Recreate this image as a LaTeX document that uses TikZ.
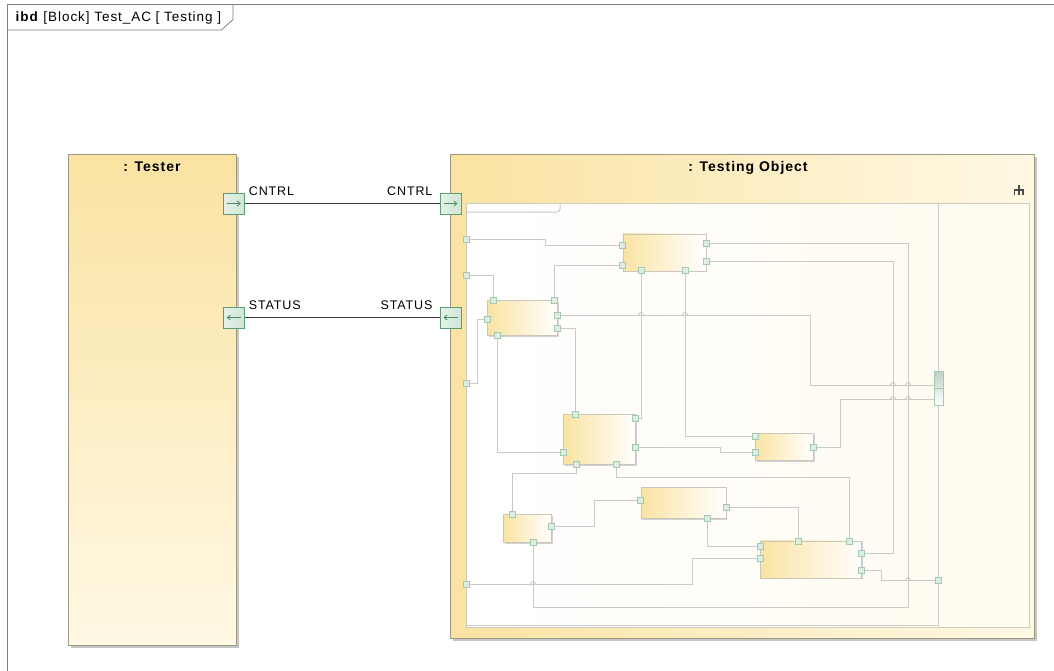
\documentclass[tikz,border=0pt]{standalone}
\usepackage{fontspec}
\setmainfont{Liberation Sans}[LetterSpace=7]
\usetikzlibrary{arrows.meta, positioning, shadows}
\definecolor{framegray}{HTML}{808080}
\definecolor{blockedge}{HTML}{9E9880}
\definecolor{blocktop}{HTML}{FAE3A2}
\definecolor{blocklow}{HTML}{FFF8E4}
\definecolor{portedge}{HTML}{5E9C76}
\definecolor{portfill}{HTML}{CFE6D6}
\definecolor{portarrow}{HTML}{4E8C63}
\definecolor{pinedge}{HTML}{A3CAB1}
\definecolor{pinfill}{HTML}{DCEEE2}
\definecolor{wiregray}{HTML}{CACACA}
\definecolor{linkdark}{HTML}{3C3C3C}
\definecolor{icongray}{HTML}{4A4A4A}

\begin{document}
\begin{tikzpicture}[x=1pt, y=-1pt,
    every node/.style={font=\fontsize{12.5}{14}\selectfont, inner sep=0pt},
    block/.style={draw=blockedge, line width=0.8pt, general shadow={fill=black!22, shadow xshift=2.5pt, shadow yshift=-2.5pt}},
    part/.style={draw=blockedge!55, line width=0.6pt, left color=blocktop, right color=white, general shadow={fill=black!18, shadow xshift=1.5pt, shadow yshift=-1.5pt}},
    port/.style={draw=portedge, line width=0.8pt, minimum width=21pt, minimum height=21pt, left color=portfill!55!white, right color=portfill},
    pinbox/.style={draw=pinedge, fill=pinfill, line width=0.5pt, minimum width=6pt, minimum height=6pt},
    title/.style={font=\fontsize{14}{16}\selectfont\bfseries, anchor=base},
    lbl/.style={anchor=base west},
    link/.style={linkdark, line width=1.1pt},
    wire/.style={wiregray, line width=1pt},
    flow/.style={portarrow, line width=0.8pt, -{Straight Barb[length=3pt, width=5pt]}}
]
\useasboundingbox[fill=white] (0,0) rectangle (1054,670);

% Diagram frame
\draw[framegray, line width=0.8pt] (7.5,680) -- (7.5,4.5) -- (1060,4.5);
\draw[framegray, line width=0.8pt] (7.5,30) -- (221.5,30) -- (233,19.5) -- (233,4.5);
\node[anchor=base west, font=\fontsize{13.5}{15}\selectfont] (hdr) at (15.5,21.5) {\textbf{ibd} [Block] Test\_AC [ Testing ]};

% Tester block
\node[block, minimum width=168pt, minimum height=491pt, top color=blocktop, bottom color=blocklow] (tester) at (152,399.5) {};
\node[title] (testername) at (152,171.5) {: Tester};

% Testing object block
\node[block, minimum width=584pt, minimum height=484pt, left color=blocktop, right color=blocklow] (obj) at (742,396) {};
\node[draw=blockedge!50, line width=0.6pt, left color=white, right color=blocklow!60!white, minimum width=563pt, minimum height=424pt] (struct) at (747.5,415) {};
\node[title] (objname) at (748,171.5) {: Testing Object};
\draw[icongray, line width=1.6pt] (1018.7,184.5) -- (1018.7,195) (1013.6,190) -- (1023.8,190)
    (1014.4,189.2) -- (1014.4,195) (1023,189.2) -- (1023,195);

% Ports and links
\node[port] (tcntrl) at (233.8,203.5) {};
\node[port] (tstatus) at (233.8,317.5) {};
\node[port] (ocntrl) at (450.5,203.5) {};
\node[port] (ostatus) at (450.5,317.5) {};
\draw[flow] ([xshift=-7pt]tcntrl.center) -- ([xshift=7pt]tcntrl.center);
\draw[flow] ([xshift=-7pt]ocntrl.center) -- ([xshift=7pt]ocntrl.center);
\draw[flow] ([xshift=7pt]tstatus.center) -- ([xshift=-7pt]tstatus.center);
\draw[flow] ([xshift=7pt]ostatus.center) -- ([xshift=-7pt]ostatus.center);
\draw[link] (tcntrl) -- (ocntrl);
\draw[link] (tstatus) -- (ostatus);
\node[lbl] (cntrlout) at ([xshift=4pt, yshift=-2.5pt]tcntrl.north east) {CNTRL};
\node[lbl, anchor=base east] (cntrlin) at ([xshift=-7pt, yshift=-2.5pt]ocntrl.north west) {CNTRL};
\node[lbl] (statusin) at ([xshift=4pt, yshift=-2.5pt]tstatus.north east) {STATUS};
\node[lbl, anchor=base east] (statusout) at ([xshift=-7pt, yshift=-2.5pt]ostatus.north west) {STATUS};

% Inner parts
\node[part, minimum width=83pt, minimum height=37pt] (part1) at (664.3,252.3) {};
\node[part, minimum width=70pt, minimum height=35pt] (part2) at (522.5,317.5) {};
\node[part, minimum width=72pt, minimum height=50pt] (part3) at (599.3,439.2) {};
\node[part, minimum width=58pt, minimum height=27pt] (part4) at (784,447) {};
\node[part, minimum width=48pt, minimum height=28pt] (part5) at (527,528) {};
\node[part, minimum width=101pt, minimum height=37pt] (part6) at (811,559.3) {};
\node[part, minimum width=85pt, minimum height=31pt] (part7) at (683.3,503) {};

% Pin positions
\coordinate (w1) at (466,239);   \coordinate (w2) at (466,275);
\coordinate (w3) at (466,383);   \coordinate (w4) at (466,584);
\coordinate (e1) at (938.5,385); \coordinate (e2) at (938.5,399);
\coordinate (e3) at (938.5,580);
\coordinate (p1a) at (622.7,245); \coordinate (p1b) at (622.7,265);
\coordinate (p1c) at (706,243);   \coordinate (p1d) at (706,261);
\coordinate (p1e) at (641,270.5); \coordinate (p1f) at (685,270.5);
\coordinate (p2a) at (493,300);   \coordinate (p2b) at (554,300);
\coordinate (p2c) at (487.5,319); \coordinate (p2d) at (557.5,315);
\coordinate (p2e) at (557.5,328); \coordinate (p2f) at (497,335);
\coordinate (p3a) at (575,414.3); \coordinate (p3b) at (635.3,418);
\coordinate (p3c) at (563.3,452); \coordinate (p3d) at (635.3,447);
\coordinate (p3e) at (576,464);   \coordinate (p3f) at (616,464);
\coordinate (p4a) at (755,436);   \coordinate (p4b) at (755,452);
\coordinate (p4c) at (813,447);
\coordinate (p5a) at (512,514);   \coordinate (p5b) at (551,526);
\coordinate (p5c) at (533,542);
\coordinate (p6a) at (760.5,546); \coordinate (p6b) at (760.5,558);
\coordinate (p6c) at (798,541);   \coordinate (p6d) at (849.5,541);
\coordinate (p6e) at (861.5,553); \coordinate (p6f) at (861.5,570);
\coordinate (p7a) at (640.7,500); \coordinate (p7b) at (726,507.5);
\coordinate (p7c) at (707,518.3);

% Inner connectors
\draw[wire, rounded corners=3pt] (560,203) |- (466,212);
\draw[wire] (466,212) -- (466,625) -- (938.5,625) -- (938.5,203);
\draw[wire] (w1) -- (545,239) |- (p1a);
\draw[wire] (w2) -| (p2a);
\draw[wire] (w3) -- (477,383) |- (p2c);
\draw[wire] (p2b) |- (p1b);
\draw[wire] (p2d) -- (810,315) |- (e1);
\draw[wire] (p2e) -| (p3a);
\draw[wire] (p2f) |- (p3c);
\draw[wire] (p1e) |- (p3b);
\draw[wire] (p1f) |- (p4a);
\draw[wire] (p3d) -- (720,447) |- (p4b);
\draw[wire] (p3e) -- (576,473) -| (p5a);
\draw[wire] (p3f) -- (616,477) -| (p6d);
\draw[wire] (p4c) -- (840,447) |- (e2);
\draw[wire] (p5b) -- (594,526) |- (p7a);
\draw[wire] (p5c) |- (908,607) |- (p1c);
\draw[wire] (w4) -- (692,584) |- (p6b);
\draw[wire] (p7c) |- (p6a);
\draw[wire] (p7b) -| (p6c);
\draw[wire] (p6e) -- (893,553) |- (p1d);
\draw[wire] (p6f) -- (881,570) |- (e3);

% line hops
\foreach \x/\y in {641/315, 685/315, 893/385, 908/385, 893/399, 908/399, 908/580, 533/584}
    \draw[wire, line width=0.9pt] ({\x-2.5},\y) arc[start angle=180, end angle=0, radius=2.5pt];

% Pins
\node[draw=pinedge, line width=0.6pt, top color=portfill!90!black!95, bottom color=white, minimum width=9pt, minimum height=34pt] (rport) at (938.5,388) {};
\draw[pinedge, line width=0.6pt] (rport.west) -- (rport.east);
\foreach \p in {w1,w2,w3,w4,e3,p1a,p1b,p1c,p1d,p1e,p1f,p2a,p2b,p2c,p2d,p2e,p2f,p3a,p3b,p3c,p3d,p3e,p3f,p4a,p4b,p4c,p5a,p5b,p5c,p6a,p6b,p6c,p6d,p6e,p6f,p7a,p7b,p7c}
    \node[pinbox] (pin\p) at (\p) {};

\end{tikzpicture}
\end{document}
